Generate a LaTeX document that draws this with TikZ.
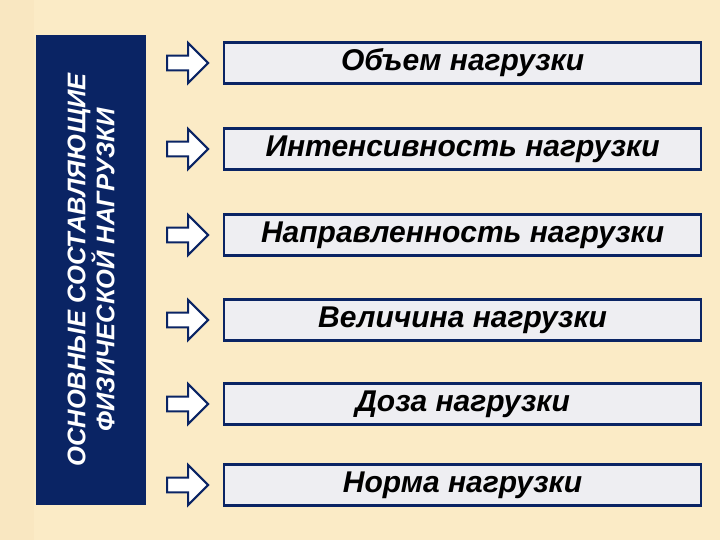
\documentclass[tikz,border=0pt]{standalone}
\usepackage{fontspec}
\setmainfont{Liberation Sans}
\usetikzlibrary{shapes.arrows}
\definecolor{bg}{HTML}{FBEBC6}
\definecolor{navy}{HTML}{0A2464}
\definecolor{boxfill}{HTML}{EEEEF2}
\tikzset{
 item/.style={draw=navy,line width=2.2pt,fill=boxfill,minimum width=477pt,minimum height=41pt,anchor=west,font=\bfseries\itshape\fontsize{30}{32}\selectfont,inner sep=0pt},
 arr/.style={single arrow,draw=navy,line width=2.2pt,fill=white,minimum width=40pt,minimum height=41pt,single arrow head extend=7pt,inner sep=3pt,anchor=west}
}
\begin{document}
\begin{tikzpicture}[x=1pt,y=1pt]
\fill[bg] (0,0) rectangle (720,540);
\fill[bg!96!brown] (0,0) rectangle (34,540);
\node[fill=navy,minimum width=110pt,minimum height=470pt,inner sep=0pt] (bar) at (91,270) {};
\node[rotate=90,text=white,align=center,font=\bfseries\itshape\fontsize{25.5}{29}\selectfont] (title) at (bar.center) {ОСНОВНЫЕ СОСТАВЛЯЮЩИЕ\\ФИЗИЧЕСКОЙ НАГРУЗКИ};
\foreach \i/\y/\t in {1/477/Объем нагрузки,2/391/Интенсивность нагрузки,3/305/Направленность нагрузки,4/220/Величина нагрузки,5/136/Доза нагрузки,6/55/Норма нагрузки}{
 \node[arr] (a\i) at (166,\y) {};
 \node[item] (b\i) at (223,\y) {\t};
}
\end{tikzpicture}
\end{document}
